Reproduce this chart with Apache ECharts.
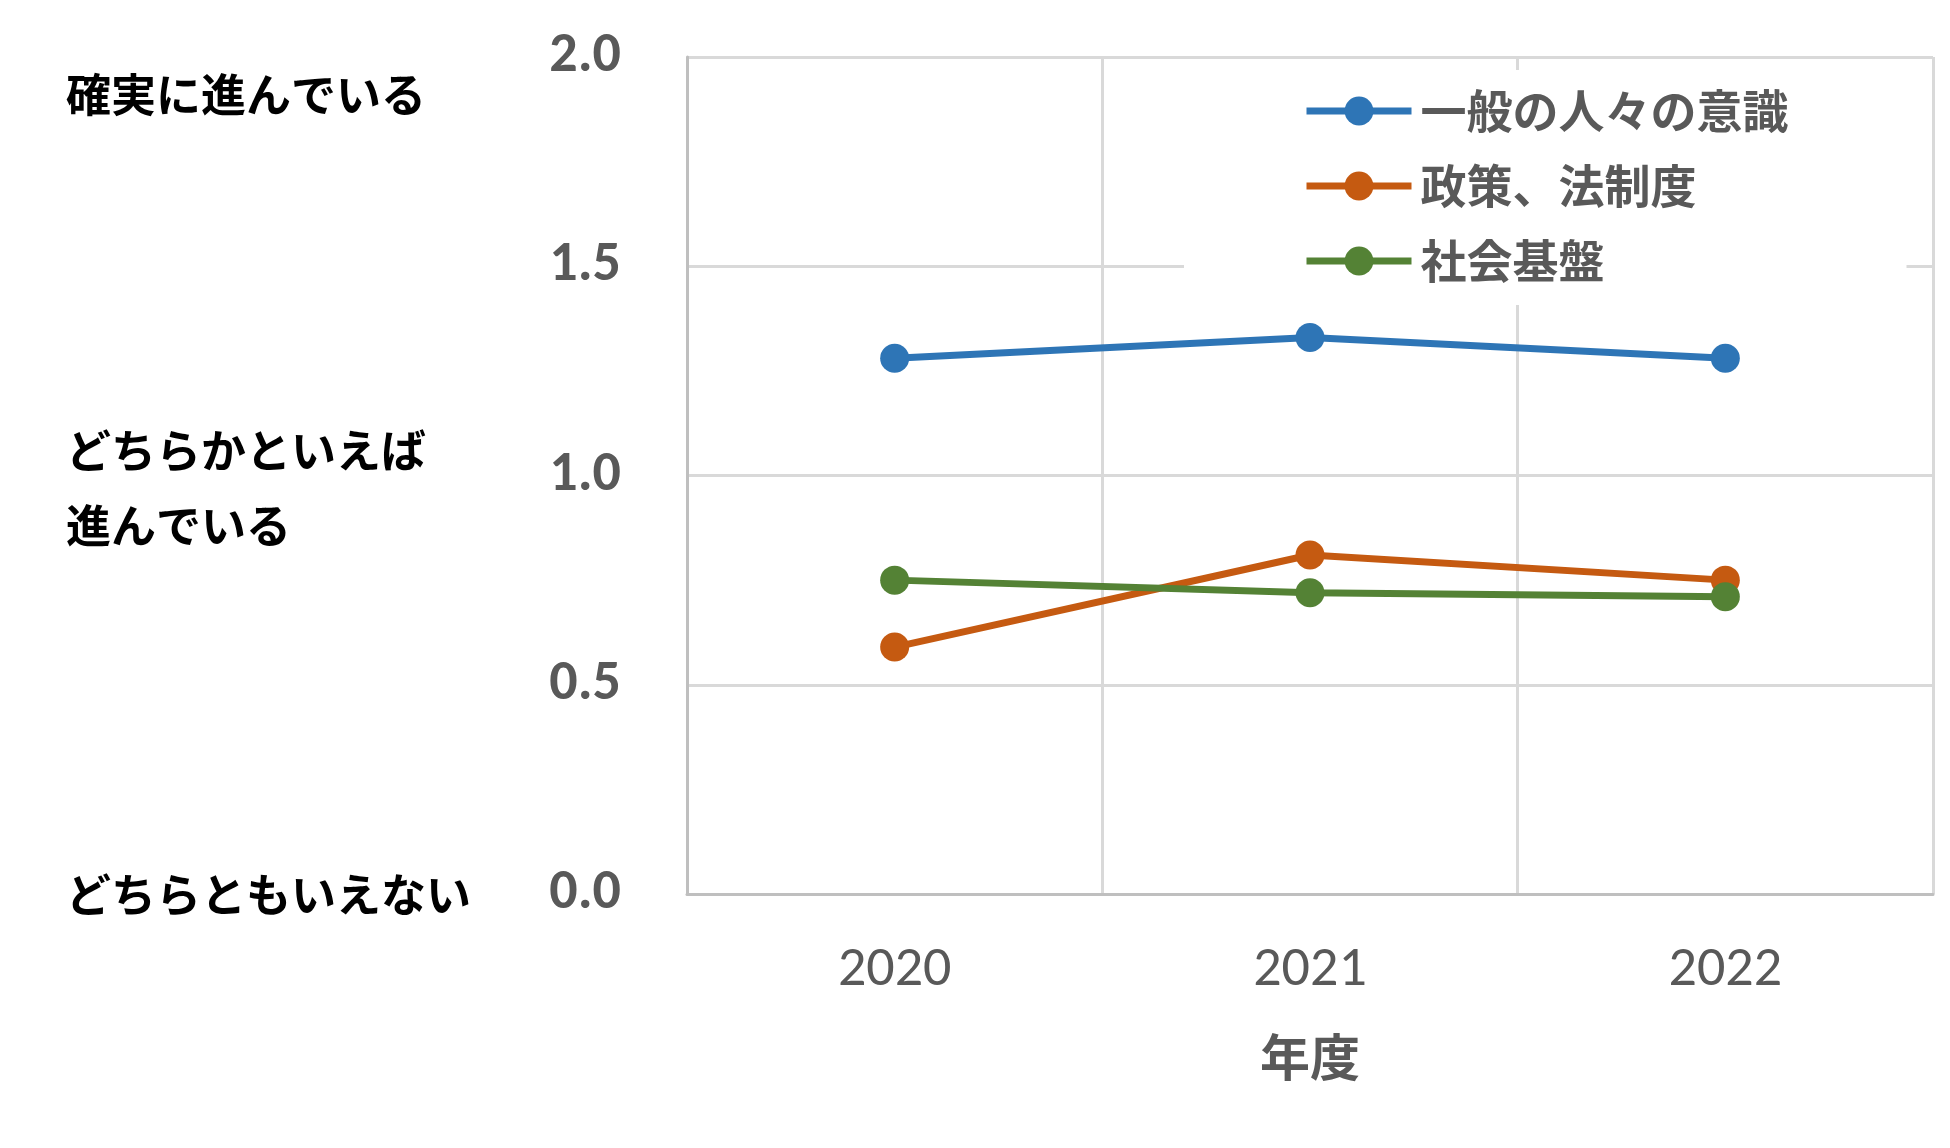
<!DOCTYPE html>
<html>
<head>
<meta charset="utf-8">
<script src="https://cdn.jsdelivr.net/npm/echarts@6/dist/echarts.min.js"></script>
<style>
html,body{margin:0;padding:0;background:#fff;}
#chart{width:1950px;height:1148px;}
</style>
</head>
<body>
<div id="chart"></div>
<script>
const years = ['2020', '2021', '2022'];
const seriesNames = ['一般の人々の意識', '政策、法制度', '社会基盤'];
const awareness = [1.28, 1.33, 1.28];
const policy = [0.59, 0.81, 0.75];
const infrastructure = [0.75, 0.72, 0.71];
const sideLabels = ['確実に進んでいる', 'どちらかといえば', '進んでいる', 'どちらともいえない'];
const xAxisTitle = '年度';

const colors = ['#2E75B6', '#C55A11', '#548235'];
const numFont = 'Carlito, "Liberation Sans Narrow", "Liberation Sans", sans-serif';
const jpFont = '"Noto Sans CJK JP", sans-serif';

const chart = echarts.init(document.getElementById('chart'), null, {renderer: 'canvas'});

function makeSeries(name, data, color) {
  return {
    name: name,
    type: 'line',
    data: data,
    symbol: 'circle',
    symbolSize: 29,
    color: color,
    itemStyle: {color: color},
    lineStyle: {color: color, width: 7},
    emphasis: {disabled: true},
    animation: false
  };
}

const sideText = (text, top) => ({
  type: 'text',
  left: 66,
  top: top,
  style: {
    text: text,
    font: 'bold 45px "Noto Sans CJK JP", sans-serif',
    fill: '#000000'
  }
});

chart.setOption({
  animation: false,
  backgroundColor: '#ffffff',
  grid: {left: 687, right: 17, top: 57, bottom: 254, containLabel: false},
  legend: {
    data: seriesNames,
    orient: 'vertical',
    left: 1184,
    top: 70,
    padding: [18, 118, 21, 119],
    backgroundColor: '#ffffff',
    itemWidth: 105,
    itemHeight: 36,
    itemGap: 29,
    lineStyle: {width: 7},
    textStyle: {
      fontFamily: jpFont,
      fontWeight: 'bold',
      fontSize: 46,
      color: '#595959',
      padding: [0, 0, 0, 4]
    }
  },
  xAxis: {
    type: 'category',
    data: years,
    boundaryGap: true,
    name: xAxisTitle,
    nameLocation: 'middle',
    nameGap: 138,
    nameTextStyle: {fontFamily: jpFont, fontSize: 50, fontWeight: 'bold', color: '#595959', verticalAlign: 'top'},
    axisLine: {show: true, lineStyle: {color: '#BFBFBF', width: 3}},
    axisTick: {show: false},
    axisLabel: {fontFamily: numFont, fontSize: 56, color: '#595959', margin: 49},
    splitLine: {show: true, lineStyle: {color: '#D9D9D9', width: 3}}
  },
  yAxis: {
    type: 'value',
    min: 0,
    max: 2,
    interval: 0.5,
    axisLine: {show: true, lineStyle: {color: '#BFBFBF', width: 3}},
    axisTick: {show: false},
    axisLabel: {
      fontFamily: numFont, fontSize: 56, fontWeight: 'bold', color: '#595959', margin: 66,
      padding: [10, 0, 0, 0],
      formatter: v => v.toFixed(1)
    },
    splitLine: {show: true, lineStyle: {color: '#D9D9D9', width: 3}}
  },
  graphic: [
    sideText(sideLabels[0], 72),
    sideText(sideLabels[1], 428),
    sideText(sideLabels[2], 503),
    sideText(sideLabels[3], 872)
  ],
  series: [
    makeSeries(seriesNames[0], awareness, colors[0]),
    makeSeries(seriesNames[1], policy, colors[1]),
    makeSeries(seriesNames[2], infrastructure, colors[2])
  ]
});
</script>
</body>
</html>
